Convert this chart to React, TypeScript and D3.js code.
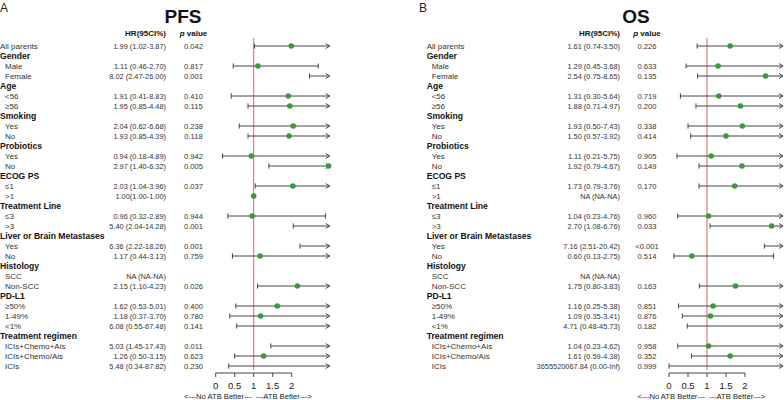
import React from "react";
import * as d3 from "d3";

const rowLabels = [
  "All parents", "Gender", "Male", "Female", "Age", "<56", "≥56", "Smoking", "Yes", "No",
  "Probiotics", "Yes", "No", "ECOG PS", "≤1", ">1", "Treatment Line", "≤3", ">3",
  "Liver or Brain Metastases", "Yes", "No", "Histology", "SCC", "Non-SCC", "PD-L1",
  "≥50%", "1-49%", "<1%", "Treatment regimen", "ICIs+Chemo+Ais", "ICIs+Chemo/Ais", "ICIs",
];
const rowIsHeader = [
  false, true, false, false, true, false, false, true, false, false,
  true, false, false, true, false, false, true, false, false,
  true, false, false, true, false, false, true,
  false, false, false, true, false, false, false,
];

type N = number | null;
const pfsHR: N[] = [1.99, null, 1.11, 8.02, null, 1.91, 1.95, null, 2.04, 1.93, null, 0.94, 2.97, null, 2.03, 1.0, null, 0.96, 5.40, null, 6.36, 1.17, null, null, 2.15, null, 1.62, 1.18, 6.08, null, 5.03, 1.26, 5.48];
const pfsLo: N[] = [1.02, null, 0.46, 2.47, null, 0.41, 0.85, null, 0.62, 0.85, null, 0.18, 1.40, null, 1.04, 1.0, null, 0.32, 2.04, null, 2.22, 0.44, null, null, 1.10, null, 0.53, 0.37, 0.55, null, 1.45, 0.50, 0.34];
const pfsHi: N[] = [3.87, null, 2.70, 26.0, null, 8.83, 4.48, null, 6.68, 4.39, null, 4.89, 6.32, null, 3.96, 1.0, null, 2.89, 14.28, null, 18.26, 3.13, null, null, 4.23, null, 5.01, 3.70, 67.48, null, 17.43, 3.15, 87.82];
const pfsText = ["1.99 (1.02-3.87)", "", "1.11 (0.46-2.70)", "8.02 (2.47-26.00)", "", "1.91 (0.41-8.83)", "1.95 (0.85-4.48)", "", "2.04 (0.62-6.68)", "1.93 (0.85-4.39)", "", "0.94 (0.18-4.89)", "2.97 (1.40-6.32)", "", "2.03 (1.04-3.96)", "1.00(1.00-1.00)", "", "0.96 (0.32-2.89)", "5.40 (2.04-14.28)", "", "6.36 (2.22-18.26)", "1.17 (0.44-3.13)", "", "NA (NA-NA)", "2.15 (1.10-4.23)", "", "1.62 (0.53-5.01)", "1.18 (0.37-3.70)", "6.08 (0.55-67.48)", "", "5.03 (1.45-17.43)", "1.26 (0.50-3.15)", "5.48 (0.34-87.82)"];
const pfsP = ["0.042", "", "0.817", "0.001", "", "0.410", "0.115", "", "0.238", "0.118", "", "0.942", "0.005", "", "0.037", "", "", "0.944", "0.001", "", "0.001", "0.759", "", "", "0.026", "", "0.400", "0.780", "0.141", "", "0.011", "0.623", "0.230"];

const osHR: N[] = [1.61, null, 1.29, 2.54, null, 1.31, 1.88, null, 1.93, 1.50, null, 1.11, 1.92, null, 1.73, null, null, 1.04, 2.70, null, 7.16, 0.60, null, null, 1.75, null, 1.16, 1.09, 4.71, null, 1.04, 1.61, 3655520067.84];
const osLo: N[] = [0.74, null, 0.45, 0.75, null, 0.30, 0.71, null, 0.50, 0.57, null, 0.21, 0.79, null, 0.79, null, null, 0.23, 1.08, null, 2.51, 0.13, null, null, 0.80, null, 0.25, 0.35, 0.48, null, 0.23, 0.59, 0.0];
const osHi: N[] = [3.50, null, 3.68, 8.65, null, 5.64, 4.97, null, 7.43, 3.92, null, 5.75, 4.67, null, 3.76, null, null, 4.76, 6.76, null, 20.42, 2.75, null, null, 3.83, null, 5.38, 3.41, 45.73, null, 4.62, 4.38, Infinity];
const osText = ["1.61 (0.74-3.50)", "", "1.29 (0.45-3.68)", "2.54 (0.75-8.65)", "", "1.31 (0.30-5.64)", "1.88 (0.71-4.97)", "", "1.93 (0.50-7.43)", "1.50 (0.57-3.92)", "", "1.11 (0.21-5.75)", "1.92 (0.79-4.67)", "", "1.73 (0.79-3.76)", "NA (NA-NA)", "", "1.04 (0.23-4.76)", "2.70 (1.08-6.76)", "", "7.16 (2.51-20.42)", "0.60 (0.13-2.75)", "", "NA (NA-NA)", "1.75 (0.80-3.83)", "", "1.16 (0.25-5.38)", "1.09 (0.35-3.41)", "4.71 (0.48-45.73)", "", "1.04 (0.23-4.62)", "1.61 (0.59-4.38)", "3655520067.84 (0.00-Inf)"];
const osP = ["0.226", "", "0.633", "0.135", "", "0.719", "0.200", "", "0.338", "0.414", "", "0.905", "0.149", "", "0.170", "", "", "0.960", "0.033", "", "<0.001", "0.514", "", "", "0.163", "", "0.851", "0.876", "0.182", "", "0.958", "0.352", "0.999"];

const xTicks = [0, 0.5, 1, 1.5, 2];
const xTickLabels = ["0", "0.5", "1", "1.5", "2"];

const FONT = "'Liberation Sans', Arial, Helvetica, sans-serif";
const GREEN = "#3a9a3a";
const LINE = "#444";
const RED = "#e06460";

type PanelProps = {
  letter: string; title: string; letterX: number; titleX: number;
  labelX: number; hrRight: number; pCenter: number; x0: number;
  hr: N[]; lo: N[]; hi: N[]; text: string[]; p: string[];
};

function Panel(pp: PanelProps) {
  const x = d3.scaleLinear().domain([0, 3]).range([pp.x0, pp.x0 + 114]);
  const y = (i: number) => 46 + 10 * i;
  const xMax = 3;
  const cap = 2.6;
  return (
    <g>
      <text x={pp.letterX} y={12} fontSize={12} fontFamily={FONT} fill="#222">{pp.letter}</text>
      <text x={pp.titleX} y={23} fontSize={19} fontWeight="bold" fontFamily={FONT} fill="#111" textAnchor="middle">{pp.title}</text>
      <text x={pp.hrRight} y={36} fontSize={8} fontWeight="bold" fontFamily={FONT} textAnchor="end" fill="#111">HR(95CI%)</text>
      <text x={pp.pCenter} y={36} fontSize={8} fontWeight="bold" fontFamily={FONT} textAnchor="middle" fill="#111">
        <tspan fontStyle="italic">p</tspan> value
      </text>
      {rowLabels.map((lab, i) => (
        <text key={"l" + i} x={rowIsHeader[i] || i === 0 ? pp.labelX : pp.labelX + 5} y={y(i)} dy="0.35em"
          fontSize={rowIsHeader[i] ? 8.6 : 8} fontWeight={rowIsHeader[i] ? "bold" : "normal"}
          fontFamily={FONT} fill={rowIsHeader[i] ? "#111" : "#333"}>{lab}</text>
      ))}
      {pp.text.map((t, i) => t ? (
        <text key={"h" + i} x={pp.hrRight} y={y(i)} dy="0.35em" fontSize={7.4} fontFamily={FONT} textAnchor="end" fill="#333">{t}</text>
      ) : null)}
      {pp.p.map((t, i) => t ? (
        <text key={"p" + i} x={pp.pCenter} y={y(i)} dy="0.35em" fontSize={7.6} fontFamily={FONT} textAnchor="middle" fill="#333">{t}</text>
      ) : null)}
      <line x1={x(1)} x2={x(1)} y1={38} y2={370} stroke={RED} strokeWidth={1} />
      {rowLabels.map((_, i) => {
        const l = pp.lo[i], h = pp.hi[i], m = pp.hr[i];
        if (l === null || h === null) return null;
        const xl = x(Math.max(0, l));
        const arrow = h > xMax;
        const xh = x(Math.min(h, xMax));
        const yy = y(i);
        return (
          <g key={"ci" + i} stroke={LINE} strokeWidth={1} fill="none">
            {l < xMax && <line x1={xl} x2={xh} y1={yy} y2={yy} />}
            {l < xMax && <line x1={xl} x2={xl} y1={yy - cap} y2={yy + cap} />}
            {arrow ? (
              <path d={`M${xh - 4},${yy - 2.5} L${xh},${yy} L${xh - 4},${yy + 2.5}`} />
            ) : (
              <line x1={xh} x2={xh} y1={yy - cap} y2={yy + cap} />
            )}
            {m !== null && m <= xMax && (
              <circle cx={x(m)} cy={yy} r={2.8} fill={GREEN} stroke="none" />
            )}
          </g>
        );
      })}
      <g stroke={LINE} strokeWidth={1}>
        <line x1={x(0)} x2={x(2)} y1={373} y2={373} />
        {xTicks.map((t) => (
          <line key={"t" + t} x1={x(t)} x2={x(t)} y1={373} y2={377} />
        ))}
      </g>
      {xTicks.map((t, k) => (
        <text key={"tl" + t} x={x(t)} y={389} fontSize={9.5} fontFamily={FONT} textAnchor="middle" fill="#222">{xTickLabels[k]}</text>
      ))}
      <text x={x(1) - 2} y={399} fontSize={7.6} fontFamily={FONT} textAnchor="end" fill="#222">{"<---No ATB Better---"}</text>
      <text x={x(1) + 2} y={399} fontSize={7.6} fontFamily={FONT} textAnchor="start" fill="#222">{"---ATB Better--->"}</text>
    </g>
  );
}

export default function App() {
  return (
    <svg width={784} height={400} style={{ position: "absolute", left: 0, top: 0, background: "#fff" }}>
      <rect width={784} height={400} fill="#fff" />
      <Panel letter="A" title="PFS" letterX={0} titleX={183} labelX={0} hrRight={166} pCenter={193.5} x0={215.7}
        hr={pfsHR} lo={pfsLo} hi={pfsHi} text={pfsText} p={pfsP} />
      <Panel letter="B" title="OS" letterX={419} titleX={636} labelX={426.7} hrRight={620} pCenter={647} x0={669}
        hr={osHR} lo={osLo} hi={osHi} text={osText} p={osP} />
    </svg>
  );
}
